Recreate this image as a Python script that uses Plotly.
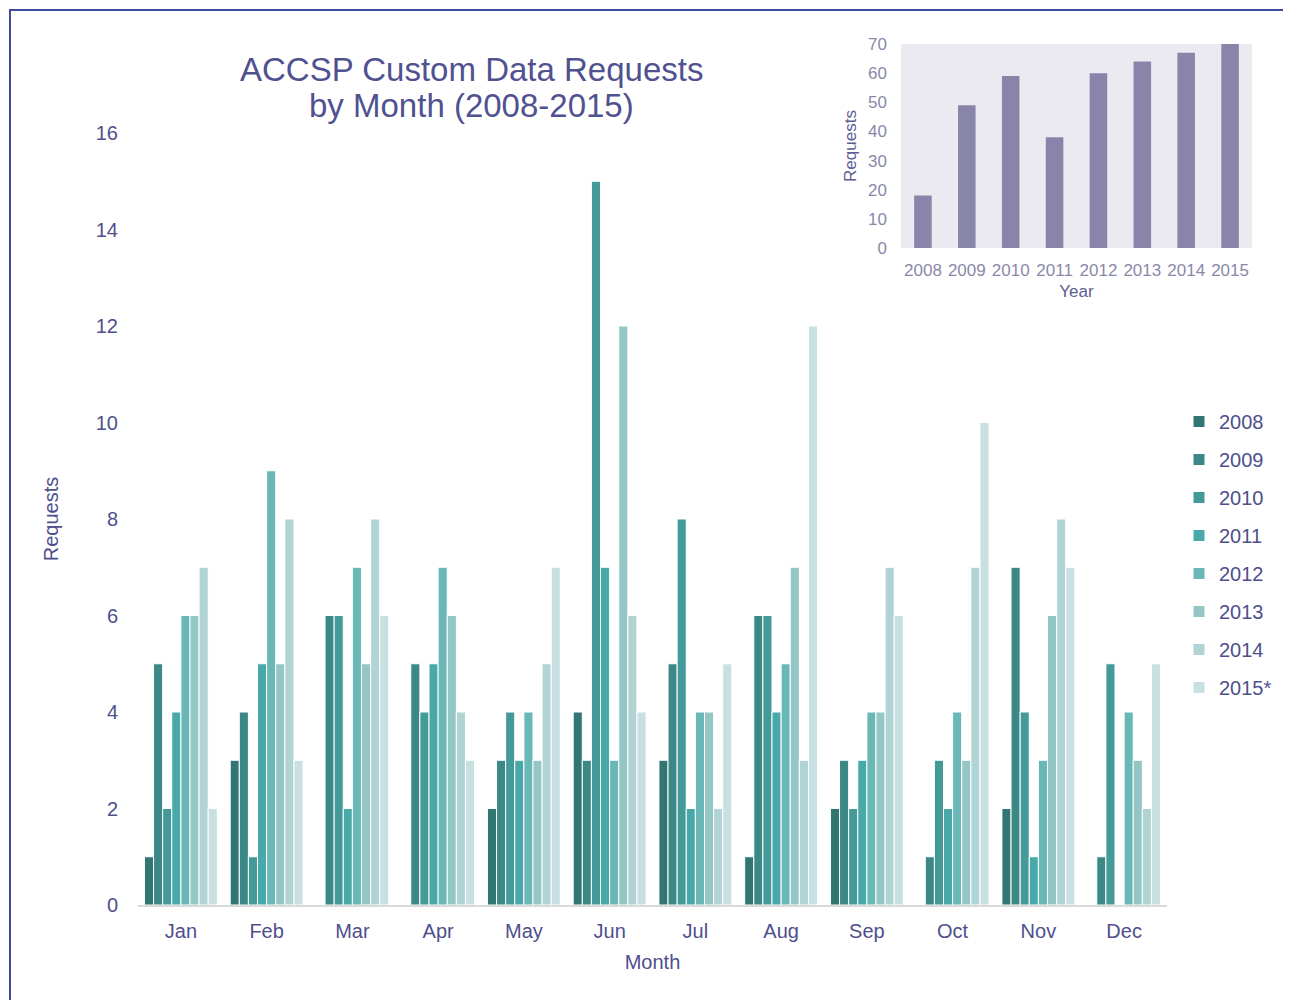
import plotly.graph_objects as go

months = ["Jan", "Feb", "Mar", "Apr", "May", "Jun", "Jul", "Aug", "Sep", "Oct", "Nov", "Dec"]
years = ["2008", "2009", "2010", "2011", "2012", "2013", "2014", "2015*"]

req_2008 = [1, 3, 0, 0, 2, 4, 3, 1, 2, 0, 2, 0]
req_2009 = [5, 4, 6, 5, 3, 3, 5, 6, 3, 1, 7, 1]
req_2010 = [2, 1, 6, 4, 4, 15, 8, 6, 2, 3, 4, 5]
req_2011 = [4, 5, 2, 5, 3, 7, 2, 4, 3, 2, 1, 0]
req_2012 = [6, 9, 7, 7, 4, 3, 4, 5, 4, 4, 3, 4]
req_2013 = [6, 5, 5, 6, 3, 12, 4, 7, 4, 3, 6, 3]
req_2014 = [7, 8, 8, 4, 5, 6, 2, 3, 7, 7, 8, 2]
req_2015 = [2, 3, 6, 3, 7, 4, 5, 12, 6, 10, 7, 5]
series = [req_2008, req_2009, req_2010, req_2011, req_2012, req_2013, req_2014, req_2015]

colors = ["#327674", "#3b8886", "#439a99", "#49a9a8", "#69b8b7", "#94c6c6", "#b0d3d4", "#c8e0e1"]

inset_years = ["2008", "2009", "2010", "2011", "2012", "2013", "2014", "2015"]
inset_totals = [18, 49, 59, 38, 60, 64, 67, 70]

OFF = 8  # page offset of the figure inside the browser window
W, H = 1291 - OFF, 1000 - OFF
L, R, T = 138 - OFF, 20, 40 - OFF
B = (OFF + H) - 905
PW = W - L - R
PH = H - T - B


def px_x(x):
    return (x - OFF - L) / PW


def px_y(y):
    return (H - B - (y - OFF)) / PH


TXT = "#4e4f8c"
FONT = "Liberation Sans, Arial, sans-serif"

fig = go.Figure()
for name, vals, c in zip(years, series, colors):
    fig.add_trace(go.Bar(
        x=months, y=vals, name=name, marker=dict(color=c, line=dict(color="white", width=1)),
        legendgroup=name, xaxis="x", yaxis="y",
    ))

fig.add_trace(go.Bar(
    x=inset_years, y=inset_totals, width=0.4, marker=dict(color="#8985aa", line=dict(width=0)),
    showlegend=False, xaxis="x2", yaxis="y2",
))

fig.update_layout(
    width=W, height=H,
    margin=dict(l=L, r=R, t=T, b=B),
    paper_bgcolor="white", plot_bgcolor="rgba(0,0,0,0)",
    font=dict(family=FONT, color=TXT, size=20),
    barmode="group", bargap=0.15, bargroupgap=0,
    xaxis=dict(domain=[0, px_x(1167)], type="category", showline=True, linecolor="#d9d9d9", linewidth=2,
               showgrid=False, ticks="", ticklabelstandoff=7, tickfont=dict(size=20, color=TXT),
               title=dict(text="Month", font=dict(size=20, color=TXT), standoff=14)),
    yaxis=dict(domain=[0, px_y(133)], range=[0, 16], dtick=2, showgrid=False, zeroline=False, showline=False,
               ticks="", ticklabelstandoff=19, tickfont=dict(size=20, color=TXT),
               title=dict(text="Requests", font=dict(size=20, color=TXT), standoff=31)),
    xaxis2=dict(domain=[px_x(901), px_x(1252)], anchor="y2", type="category", showgrid=False, showline=False,
                ticks="", ticklabelstandoff=10, tickfont=dict(size=17, color="#8a88aa"),
                title=dict(text="Year", font=dict(size=17, color="#5d5d92"), standoff=6)),
    yaxis2=dict(domain=[px_y(248), px_y(44)], anchor="x2", range=[0, 70], dtick=10, showgrid=False,
                zeroline=False, showline=False, ticks="", ticklabelstandoff=13,
                tickfont=dict(size=17, color="#8a88aa"),
                title=dict(text="Requests", font=dict(size=17, color="#5d5d92"), standoff=7)),
    legend=dict(x=px_x(1179), xanchor="left", y=px_y(402), yanchor="top", traceorder="grouped",
                tracegroupgap=9, font=dict(size=20, color=TXT), bgcolor="rgba(0,0,0,0)"),
    showlegend=True,
)

fig.add_shape(type="rect", xref="x2 domain", yref="y2 domain", x0=0, x1=1, y0=0, y1=1,
              fillcolor="#ebeaf1", line=dict(width=0), layer="below")

fig.add_shape(type="rect", xref="paper", yref="paper", x0=px_x(10), x1=px_x(1400), y0=px_y(1100), y1=px_y(10),
              fillcolor="rgba(0,0,0,0)", line=dict(color="#3e4ca0", width=2), layer="above")

fig.add_annotation(text="ACCSP Custom Data Requests", xref="paper", yref="paper",
                   x=px_x(471), y=px_y(69), xanchor="center", yanchor="middle", showarrow=False,
                   font=dict(size=33, color="#505190"))
fig.add_annotation(text="by Month (2008-2015)", xref="paper", yref="paper",
                   x=px_x(471), y=px_y(106), xanchor="center", yanchor="middle", showarrow=False,
                   font=dict(size=33, color="#505190"))

fig.write_html("out.html")
